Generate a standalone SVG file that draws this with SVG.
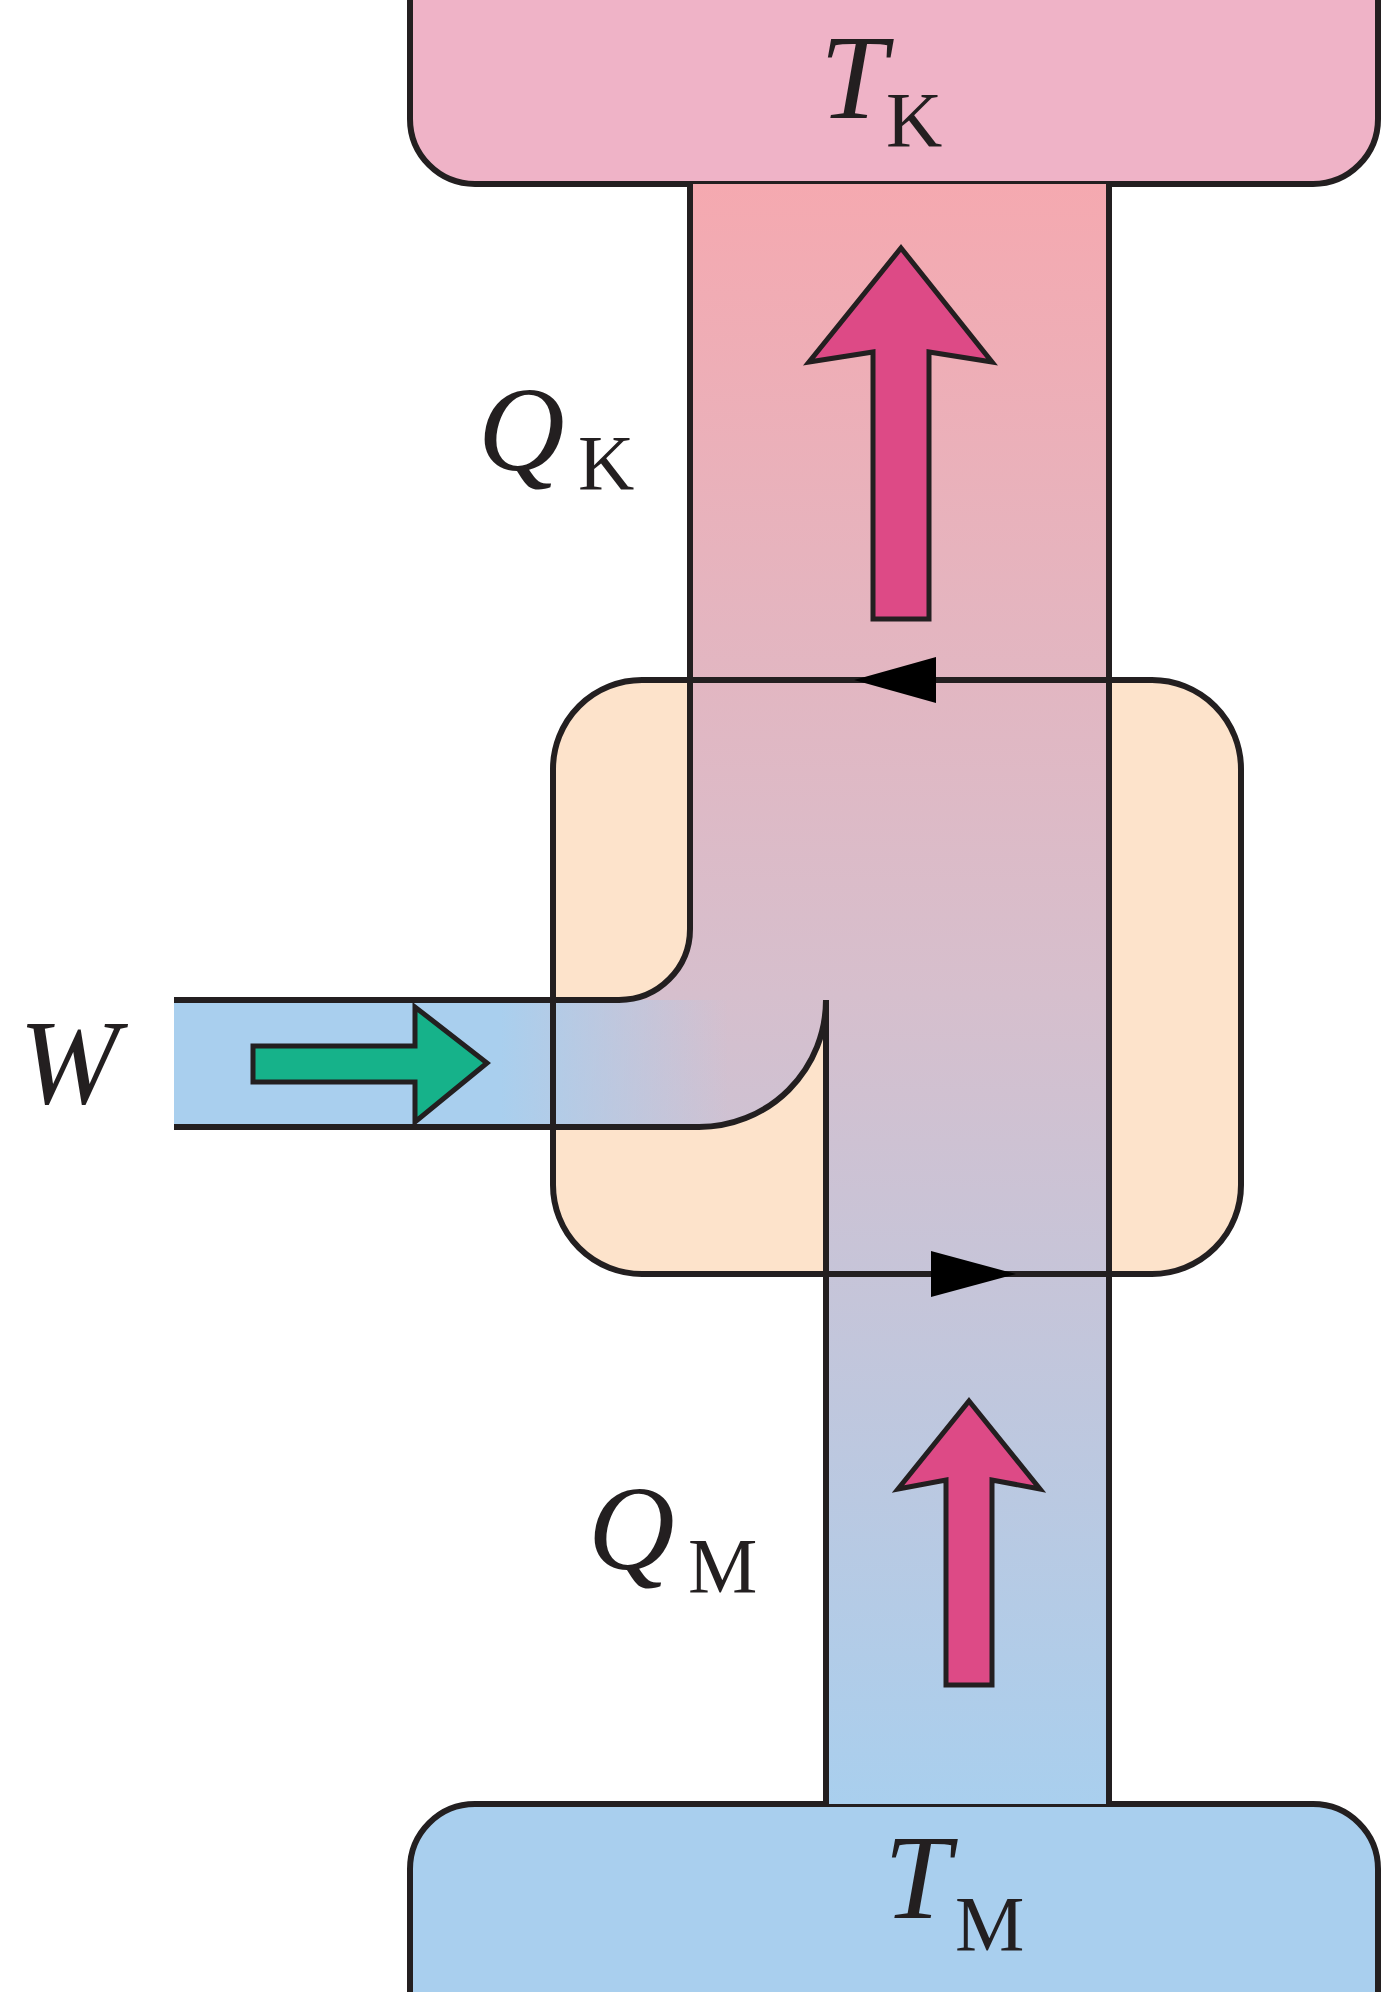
<svg xmlns="http://www.w3.org/2000/svg" width="1400" height="1992" viewBox="0 0 1400 1992">
<defs>
<linearGradient id="gv" x1="0" y1="184" x2="0" y2="1804" gradientUnits="userSpaceOnUse">
<stop offset="0" stop-color="#f5a9b0"/><stop offset="0.5" stop-color="#d6bfcd"/><stop offset="1" stop-color="#a9cfee"/>
</linearGradient>
<linearGradient id="gh" x1="174" y1="0" x2="826" y2="0" gradientUnits="userSpaceOnUse">
<stop offset="0.5" stop-color="#a9cfee" stop-opacity="1"/><stop offset="0.85" stop-color="#a9cfee" stop-opacity="0"/>
</linearGradient>
<style>.o{stroke:#231f20;stroke-width:6;fill:none}.t{font-family:'Liberation Serif',serif;fill:#231f20}.i{font-style:italic;font-size:120px}.s{font-size:78px}.pa{fill:#dd4a86;stroke:#231f20;stroke-width:5}</style>
</defs>
<g id="hot"><path d="M410,-10 H1378 V119 A65,65 0 0 1 1313,184 H475 A65,65 0 0 1 410,119 Z" fill="#efb3c7" stroke="#231f20" stroke-width="6"/>
<text class="t i" x="820" y="118">T</text><text class="t s" x="886" y="146">K</text></g>
<g id="cold"><path d="M410,2000 V1869 A65,65 0 0 1 475,1804 H1313 A65,65 0 0 1 1378,1869 V2000 Z" fill="#a9cfee" stroke="#231f20" stroke-width="6"/>
<text class="t i" x="884" y="1918">T</text><text class="t s" x="955" y="1950">M</text></g>
<g id="engine"><rect x="553" y="680" width="688" height="594" rx="89" fill="#fde3cb"/></g>
<g id="band">
<path d="M690,184 H1109 V1804 H826 V1000 A127,127 0 0 1 699,1127 H174 V1000 H619 A71,71 0 0 0 690,929 Z" fill="url(#gv)"/>
<path d="M174,1000 H826 A127,127 0 0 1 699,1127 H174 Z" fill="url(#gh)"/>
</g>
<g id="connectors">
<path class="o" d="M690,184 V929 A71,71 0 0 1 619,1000 H174"/>
<path class="o" d="M174,1127 H699 A127,127 0 0 0 826,1000 V1804"/>
<path class="o" d="M1109,184 V1804"/>
<path class="o" d="M1152,680 A89,89 0 0 1 1241,769 V1185 A89,89 0 0 1 1152,1274 H642 A89,89 0 0 1 553,1185 V769 A89,89 0 0 1 642,680 Z"/>
<path d="M854,680 L936,657 L936,703 Z" fill="#000"/>
<path d="M1016,1274 L931,1251 L931,1297 Z" fill="#000"/>
</g>
<g id="arrows">
<path class="pa" d="M901,248 L992,362 L929,352 V619 H873 V352 L809,362 Z"/>
<path class="pa" d="M969,1401 L1040,1489 L992,1480 V1685 H946 V1480 L898,1489 Z"/>
<path d="M253,1046 H415 V1007 L487,1063 L415,1122 V1082 H253 Z" fill="#16b28a" stroke="#231f20" stroke-width="5"/>
</g>
<g id="labels">
<text class="t i" x="478" y="470">Q</text><text class="t s" x="578" y="489">K</text>
<text class="t i" x="588" y="1569">Q</text><text class="t s" x="688" y="1592">M</text>
<text class="t i" x="19" y="1103">W</text>
</g>
</svg>
